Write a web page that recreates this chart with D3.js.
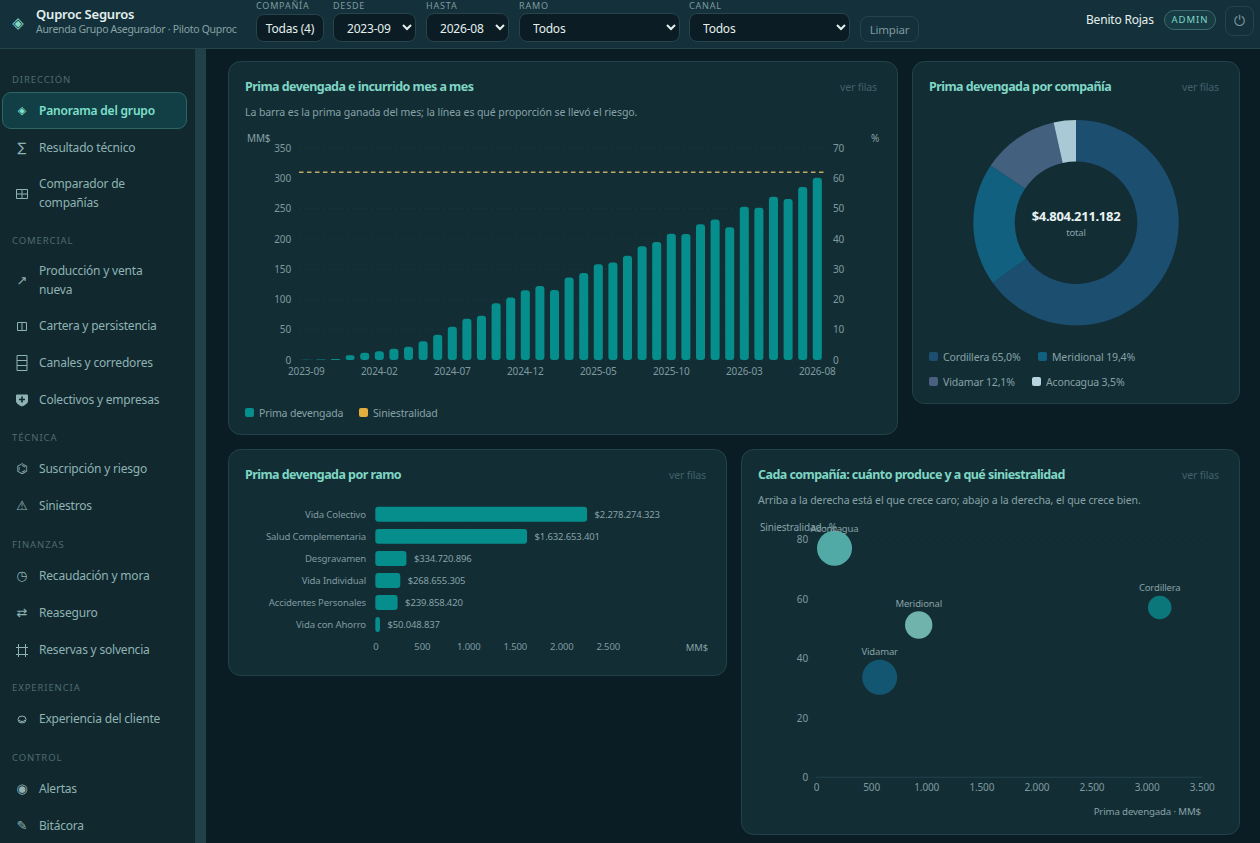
<!DOCTYPE html>
<html lang="es">
<head>
<meta charset="utf-8">
<title>Panorama del grupo</title>
<script src="https://cdn.jsdelivr.net/npm/d3@7"></script>
<style>
html, body { margin: 0; width: 1260px; height: 843px; overflow: hidden; background: #0b1d24; color-scheme: dark; }
body, select, button { font-family: "Noto Sans", sans-serif; }
.abs { position: absolute; white-space: nowrap; }
#topbar { position: absolute; left: 0; top: 0; width: 1260px; height: 48px; background: #14303a; border-bottom: 1px solid #25444c; }
#sidebar { position: absolute; left: 0; top: 49px; width: 195px; height: 794px; background: #11282f; }
#scroll { position: absolute; left: 195px; top: 49px; width: 11px; height: 794px; background: #214049; }
.field { background: #0b1c24; border: 1px solid #25444c; border-radius: 8px; color: #e4f0ee; font-size: 12px; letter-spacing: -0.2px; box-sizing: border-box; }
select.field { padding-left: 9px; padding-top: 1px; outline: none; }
.flabel { color: #7f9a9f; font-size: 9px; letter-spacing: 0.8px; }
.sec { color: #4f6b70; font-size: 9.5px; letter-spacing: 0.9px; }
.item { color: #8fb3b2; font-size: 12px; letter-spacing: -0.2px; line-height: 18.5px; }
.icon { color: #8fb3b2; font-family: "DejaVu Sans"; font-size: 13px; text-align: center; width: 20px; line-height: 18px; }
.icon svg { left: 0; top: -3px; }
#active { position: absolute; left: 2px; top: 92px; width: 183px; height: 35px; background: #123f45; border: 1px solid #2c6665; border-radius: 9px; }
svg { position: absolute; left: 0; top: 0; }
svg text { font-family: "Noto Sans", sans-serif; letter-spacing: -0.15px; }
.tick text { fill: #7f9a9f; font-size: 10px; }
.ctitle { fill: #7fd6c4; font-size: 12.5px; font-weight: 700; letter-spacing: -0.55px; }
.csub { fill: #86a2a5; font-size: 10.5px; letter-spacing: -0.08px; }
.cver { fill: #42606a; font-size: 10.5px; text-anchor: end; }
.lbl { fill: #86a2a5; font-size: 10.5px; }
</style>
</head>
<body>
<div id="topbar"></div>
<div id="sidebar"></div>
<div id="scroll"></div>
<div id="active"></div>
<svg id="charts" width="1260" height="843"></svg>
<script>
// monthly series
var months = ["2023-09","2023-10","2023-11","2023-12","2024-01","2024-02","2024-03","2024-04","2024-05","2024-06","2024-07","2024-08",
    "2024-09","2024-10","2024-11","2024-12","2025-01","2025-02","2025-03","2025-04","2025-05","2025-06","2025-07","2025-08",
    "2025-09","2025-10","2025-11","2025-12","2026-01","2026-02","2026-03","2026-04","2026-05","2026-06","2026-07","2026-08"];
var prima_mes = [0.5,1,1.6,7.7,12,14.3,18.7,22,30.8,41.8,55,68,73,93.5,103,115,122,115.6,136,143.6,158,161,172,187.7,195,208.6,208,224,232,219,253,251.5,269.7,266,285.6,301];
var siniestralidad_mes = [62,62,62,62,62,62,62,62,62,62,62,62,62,62,62,62,62,62,62,62,62,62,62,62,62,62,62,62,62,62,62,62,62,62,62,62];
var month_ticks = ["2023-09","2024-02","2024-07","2024-12","2025-05","2025-10","2026-03","2026-08"];

// by company
var companias = ["Cordillera","Meridional","Vidamar","Aconcagua"];
var participacion = [65.0,19.4,12.1,3.5];
var total_prima = "$4.804.211.182";

// by line
var ramos = ["Vida Colectivo","Salud Complementaria","Desgravamen","Vida Individual","Accidentes Personales","Vida con Ahorro"];
var prima_ramo = [2278274323,1632653401,334720896,268655305,239858420,50048837];

// scatter
var burbujas = ["Aconcagua","Meridional","Vidamar","Cordillera"];
var burbuja_prima = [168,932,578,3119];
var burbuja_sin = [77,51.2,33.6,57.1];
var burbuja_peso = [100,61,100,45];

// glyphs the fonts here draw too small, done as tiny svgs
function ico(inner) {
    return '<svg width="20" height="24" fill="none" stroke="#8fb3b2" stroke-width="1">' + inner + '</svg>';
}
var ico_grid = ico('<path d="M4.5 7.5h11v9h-11zM10 7.5v9M4.5 12h11"/>');
var ico_cols = ico('<path d="M5.5 8.5h9v8h-9zM10 8.5v8"/>');
var ico_rows = ico('<path d="M5 4.5h10v15H5zM5 9.5h10M5 14.5h10"/>');
var ico_shield = ico('<path d="M4.5 7h11v6c0 2.5-3 4-5.500 5c-2.500-1-5.500-2.500-5.500-5z" fill="#8fb3b2"/><path d="M10 8.500v6M7 11.500h6" stroke="#11282f" stroke-width="1.6"/>');
var ico_frame = ico('<path d="M4 9.500h12M4 16.500h12M6.500 6v13M13.500 6v13"/>');
var ico_face = ico('<ellipse cx="10" cy="12.500" rx="4" ry="3.500"/><path d="M7 13c1.500 2 4.500 2 6 0"/>');

// navigation
var nav_sections = [["DIRECCIÓN",80],["COMERCIAL",241],["TÉCNICA",438],["FINANZAS",545],["EXPERIENCIA",688],["CONTROL",758]];
var nav_items = [
    ["◈","Panorama del grupo",111],["∑","Resultado técnico",148],[ico_grid,"Comparador de<br>compañías",193.5],
    ["↗","Producción y venta<br>nueva",280.5],[ico_cols,"Cartera y persistencia",326],[ico_rows,"Canales y corredores",363],
    [ico_shield,"Colectivos y empresas",400],["⌬","Suscripción y riesgo",469],["⚠","Siniestros",506],
    ["◷","Recaudación y mora",576],["⇄","Reaseguro",613],[ico_frame,"Reservas y solvencia",650],
    [ico_face,"Experiencia del cliente",719],["◉","Alertas",789],["✎","Bitácora",826]];

var body = d3.select("body");
var fmt = d3.formatLocale({decimal: ",", thousands: ".", grouping: [3], currency: ["$",""]});
var fmt_int = fmt.format(",d");
var fmt_money = fmt.format("$,d");

// place a bit of html at a fixed spot
function put(cls, x, y, html) {
    return body.append("div").attr("class", "abs " + cls).style("left", x + "px").style("top", y + "px").html(html);
}

// top bar
put("", 8, 14, "◈").style("color", "#7fd8c6").style("font", "15px 'DejaVu Sans'").style("width", "20px").style("text-align", "center");
put("", 36, 5, "Quproc Seguros").style("color", "#e4f0ee").style("font-size", "13px").style("font-weight", "600").style("letter-spacing", "-0.2px");
put("", 36, 22, "Aurenda Grupo Asegurador · Piloto Quproc").style("color", "#86a2a5").style("font-size", "10.5px").style("letter-spacing", "-0.3px");

var filter_labels = [["COMPAÑÍA",256,-1],["DESDE",333,-1],["HASTA",426,-1],["RAMO",519,-1],["CANAL",689,-1]];
filter_labels.forEach(function(d) { put("flabel", d[1], d[2], d[0]); });

body.append("button").attr("class", "abs field").text("Todas (4)")
    .style("left", "256px").style("top", "14px").style("width", "68px").style("height", "28px").style("padding", "0");
var selects = [["2023-09",333,83],["2026-08",426,83],["Todos",519,161],["Todos",689,161]];
selects.forEach(function(d) {
    var s = body.append("select").attr("class", "abs field")
        .style("left", d[1] + "px").style("top", "13px").style("width", d[2] + "px").style("height", "29px");
    s.append("option").text(d[0]);
});
body.append("button").attr("class", "abs field").text("Limpiar")
    .style("left", "860px").style("top", "16px").style("width", "59px").style("height", "26px").style("padding", "0")
    .style("background", "transparent").style("color", "#7f9a9f").style("font-size", "11.5px");

put("", 1086, 11, "Benito Rojas").style("color", "#e4f0ee").style("font-size", "12px").style("letter-spacing", "-0.2px");
put("", 1164, 10, "ADMIN").style("width", "52px").style("height", "20px").style("box-sizing", "border-box").style("text-align", "center")
    .style("border", "1px solid #3a6a6a").style("border-radius", "10px").style("background", "#173c44")
    .style("color", "#7fd6c4").style("font-size", "9.5px").style("line-height", "18px").style("letter-spacing", "1px");
put("", 1225, 6, "⏻").style("width", "29px").style("height", "30px").style("box-sizing", "border-box").style("text-align", "center")
    .style("border", "1px solid #25444c").style("border-radius", "8px")
    .style("color", "#7f9a9f").style("font", "14px/28px 'DejaVu Sans'");

// side navigation
nav_sections.forEach(function(d) { put("sec", 12, d[1] - 7, d[0]); });
nav_items.forEach(function(d, i) {
    var it = put("item", 39, d[2] - (d[1].indexOf("<br>") > 0 ? 18.5 : 9), d[1]);
    var ic = put("icon", 12, d[2] - 9, d[0]);
    if(i === 0) {
        it.style("color", "#7fe0cc").style("font-weight", "600");
        ic.style("color", "#7fe0cc").style("font-size", "11px");
    }
});

var svg = d3.select("#charts");

// card frame with title
function card(x, y, w, h, title, sub) {
    svg.append("rect").attr("x", x + 0.5).attr("y", y + 0.5).attr("width", w).attr("height", h).attr("rx", 12)
        .attr("fill", "#132d35").attr("stroke", "#234149");
    svg.append("text").attr("class", "ctitle").attr("x", x + 17).attr("y", y + 30).text(title);
    svg.append("text").attr("class", "cver").attr("x", x + w - 20).attr("y", y + 30).text("ver filas");
    if(sub)
        svg.append("text").attr("class", "csub").attr("x", x + 17).attr("y", y + 55).text(sub);
}

function style_axis(g) {
    g.select(".domain").remove();
    g.selectAll(".tick line").remove();
}

card(228, 61, 669, 373, "Prima devengada e incurrido mes a mes", "La barra es la prima ganada del mes; la línea es qué proporción se llevó el riesgo.");
card(912, 61, 327, 342, "Prima devengada por compañía");
card(228, 449, 498, 226, "Prima devengada por ramo");
card(741, 449, 498, 385, "Cada compañía: cuánto produce y a qué siniestralidad", "Arriba a la derecha está el que crece caro; abajo a la derecha, el que crece bien.");

// monthly bars + line
var mx = d3.scaleBand().domain(months).range([299, 824.6]).paddingInner(0.38).paddingOuter(0.19);
var my = d3.scaleLinear().domain([0, 350]).range([360, 148]);
var my2 = d3.scaleLinear().domain([0, 70]).range([360, 148]);

var mgrid = svg.append("g");
mgrid.selectAll("line").data(my.ticks(7)).enter().append("line")
    .attr("x1", 299).attr("x2", 824).attr("y1", my).attr("y2", my)
    .attr("stroke", "#183640").attr("stroke-dasharray", "2,4");

svg.selectAll(".mbar").data(prima_mes).enter().append("rect").attr("class", "mbar")
    .attr("fill", "#068e8c")
    .attr("x", function(d, i) { return mx(months[i]); })
    .attr("y", function(d) { return my(d); })
    .attr("width", mx.bandwidth())
    .attr("height", function(d) { return 360 - my(d); })
    .attr("rx", function(d) { return Math.min(3, (360 - my(d)) / 2); });

var mline = d3.line()
    .x(function(d, i) { return i === 0 ? 299 : i === months.length - 1 ? 824 : mx(months[i]) + mx.bandwidth() / 2; })
    .y(function(d) { return my2(d); });
svg.append("path").datum(siniestralidad_mes).attr("d", mline).attr("fill", "none")
    .attr("stroke", "#bda962").attr("stroke-width", 1.3).attr("stroke-dasharray", "4.5,3.5");

svg.append("g").attr("transform", "translate(295,0)").call(d3.axisLeft(my).ticks(7).tickSize(0).tickPadding(4)).call(style_axis);
svg.append("g").attr("transform", "translate(829,0)").call(d3.axisRight(my2).ticks(7).tickSize(0).tickPadding(4)).call(style_axis);
svg.append("g").attr("transform", "translate(0,360)")
    .call(d3.axisBottom(mx).tickValues(month_ticks).tickSize(0).tickPadding(8)).call(style_axis);
svg.append("text").attr("class", "lbl").attr("x", 247).attr("y", 142).style("font-size", "10px").text("MM$");
svg.append("text").attr("class", "lbl").attr("x", 871).attr("y", 142).style("font-size", "10px").text("%");

var legend_bars = [["Prima devengada", 245, "#068e8c"], ["Siniestralidad", 359, "#e0ad3e"]];
legend_bars.forEach(function(d) {
    svg.append("rect").attr("x", d[1]).attr("y", 408).attr("width", 9).attr("height", 9).attr("rx", 2).attr("fill", d[2]);
    svg.append("text").attr("class", "lbl").attr("x", d[1] + 14).attr("y", 417).text(d[0]);
});

// donut
var donut_colors = d3.scaleOrdinal().domain(companias).range(["#1c4e70","#11607f","#44607f","#a9c9d6"]);
var pie = d3.pie().sort(null)(participacion);
var arc = d3.arc().innerRadius(61.3).outerRadius(102.7);
var donut = svg.append("g").attr("transform", "translate(1076,222.7)");
donut.selectAll("path").data(pie).enter().append("path").attr("d", arc)
    .attr("fill", function(d, i) { return donut_colors(companias[i]); });
donut.append("text").attr("text-anchor", "middle").attr("y", -2).attr("fill", "#e8f3f1")
    .style("font-size", "13px").style("font-weight", "700").style("letter-spacing", "-0.3px").text(total_prima);
donut.append("text").attr("text-anchor", "middle").attr("y", 13).attr("fill", "#86a2a5").style("font-size", "9.5px").text("total");

var donut_legend = [[929,357],[1038,357],[929,382],[1032,382]];
companias.forEach(function(c, i) {
    var p = donut_legend[i];
    svg.append("rect").attr("x", p[0]).attr("y", p[1] - 5).attr("width", 9).attr("height", 9).attr("rx", 2)
        .attr("fill", i === 3 ? "#b8d4de" : i === 2 ? "#4a6080" : donut_colors(c));
    svg.append("text").attr("class", "lbl").attr("x", p[0] + 14).attr("y", p[1] + 4)
        .text(c + " " + participacion[i].toFixed(1).replace(".", ",") + "%");
});

// horizontal bars by line
var hx = d3.scaleLinear().domain([0, 2500]).range([375.3, 607.7]);
var hy = d3.scaleBand().domain(ramos).range([503.3, 635.6]).paddingInner(0.32).paddingOuter(0.16);
[500,1000,1500,2000].forEach(function(v) {
    svg.append("line").attr("x1", hx(v)).attr("x2", hx(v)).attr("y1", 503).attr("y2", 635)
        .attr("stroke", "#183640").attr("stroke-dasharray", "1,5");
});
svg.selectAll(".hbar").data(prima_ramo).enter().append("rect").attr("class", "hbar")
    .attr("x", hx(0)).attr("y", function(d, i) { return hy(ramos[i]); })
    .attr("width", function(d) { return hx(d / 1e6) - hx(0); })
    .attr("height", hy.bandwidth()).attr("rx", 3).attr("fill", "#068e8c");
svg.selectAll(".hval").data(prima_ramo).enter().append("text").attr("class", "hval")
    .attr("x", function(d) { return hx(d / 1e6) + 7.5; })
    .attr("y", function(d, i) { return hy(ramos[i]) + hy.bandwidth() / 2 + 3.5; })
    .attr("fill", "#86a2a5").style("font-size", "9.5px")
    .text(function(d) { return fmt_money(d); });
svg.append("g").attr("transform", "translate(366,0.7)")
    .call(d3.axisLeft(hy).tickSize(0).tickPadding(0)).call(style_axis)
    .selectAll("text").style("font-size", "9.6px").attr("fill", "#86a2a5");
svg.append("g").attr("transform", "translate(0,640)")
    .call(d3.axisBottom(hx).tickValues([0,500,1000,1500,2000,2500]).tickFormat(fmt_int).tickSize(0).tickPadding(3)).call(style_axis)
    .selectAll("text").style("font-size", "9.5px");
svg.append("text").attr("class", "lbl").attr("x", 708).attr("y", 651).attr("text-anchor", "end").style("font-size", "9.5px").text("MM$");

// scatter
var sx = d3.scaleLinear().domain([0, 3500]).range([816, 1201.7]);
var sy = d3.scaleLinear().domain([0, 80]).range([777.3, 539.3]);
var sr = d3.scaleSqrt().domain([0, 100]).range([0, 17.5]);
var burbuja_color = ["#52aaa6","#6fb3ac","#125672","#0c777b"];
[20,40,60,80].forEach(function(v) {
    svg.append("line").attr("x1", 816).attr("x2", 1202).attr("y1", sy(v)).attr("y2", sy(v))
        .attr("stroke", "#183640").attr("stroke-dasharray", "2,6");
});
svg.append("line").attr("x1", 816).attr("x2", 1202).attr("y1", sy(0)).attr("y2", sy(0)).attr("stroke", "#21404a");
svg.selectAll(".bub").data(burbujas).enter().append("circle").attr("class", "bub")
    .attr("cx", function(d, i) { return sx(burbuja_prima[i]); })
    .attr("cy", function(d, i) { return sy(burbuja_sin[i]); })
    .attr("r", function(d, i) { return sr(burbuja_peso[i]); })
    .attr("fill", function(d, i) { return burbuja_color[i]; });
// labels stay below the top of the plot, so Aconcagua's sits on its bubble
svg.selectAll(".bubl").data(burbujas).enter().append("text").attr("class", "bubl")
    .attr("text-anchor", "middle").attr("fill", "#86a2a5").style("font-size", "9.5px")
    .attr("x", function(d, i) { return sx(burbuja_prima[i]); })
    .attr("y", function(d, i) { return Math.max(532, sy(burbuja_sin[i]) - sr(burbuja_peso[i]) - 4.5); })
    .text(function(d) { return d; });
svg.append("g").attr("transform", "translate(808,0)")
    .call(d3.axisLeft(sy).tickValues([0,20,40,60,80]).tickSize(0).tickPadding(0)).call(style_axis);
svg.append("g").attr("transform", "translate(0,777)")
    .call(d3.axisBottom(sx).tickValues([0,500,1000,1500,2000,2500,3000,3500]).tickFormat(fmt_int).tickSize(0).tickPadding(7)).call(style_axis);
svg.append("text").attr("class", "lbl").attr("x", 760).attr("y", 531).style("font-size", "10px").text("Siniestralidad · %");
svg.append("text").attr("class", "lbl").attr("x", 1201).attr("y", 815).attr("text-anchor", "end").style("font-size", "9.7px").text("Prima devengada · MM$");
</script>
</body>
</html>
